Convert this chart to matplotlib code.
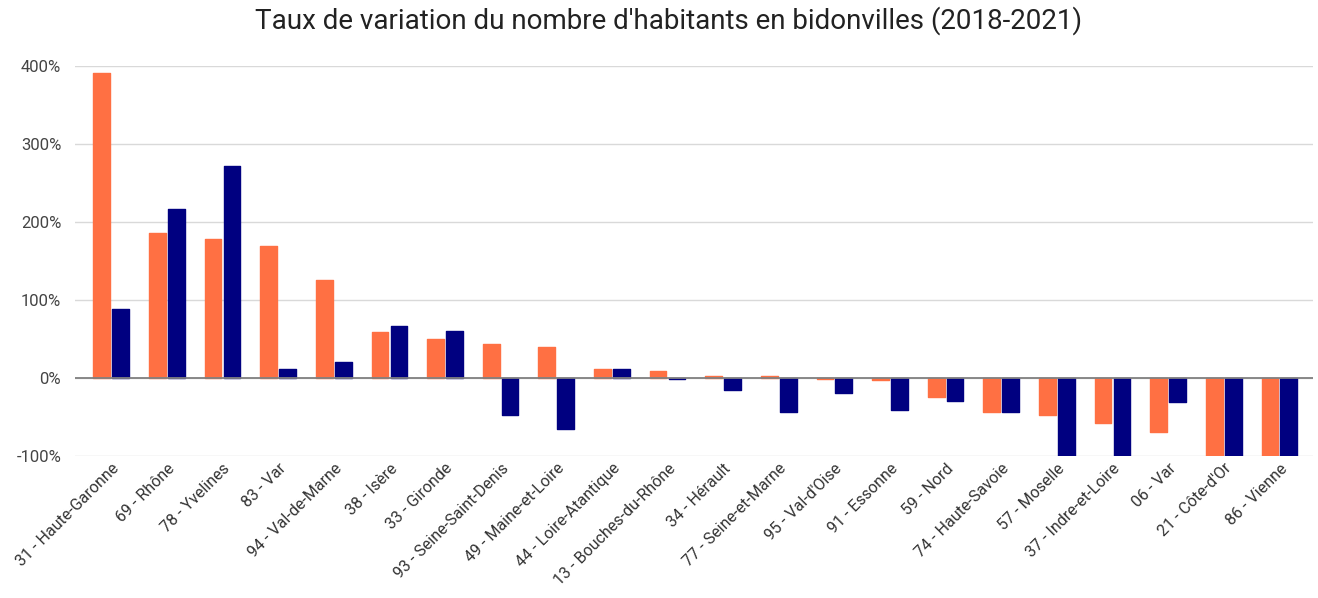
import numpy as np
import matplotlib.pyplot as plt
from matplotlib.ticker import FuncFormatter

plt.rcParams['font.family'] = ['Roboto', 'DejaVu Sans']

departements = ["31 - Haute-Garonne", "69 - Rhône", "78 - Yvelines", "83 - Var",
                "94 - Val-de-Marne", "38 - Isère", "33 - Gironde",
                "93 - Seine-Saint-Denis", "49 - Maine-et-Loire", "44 - Loire-Atantique",
                "13 - Bouches-du-Rhône", "34 - Hérault", "77 - Seine-et-Marne",
                "95 - Val-d'Oise", "91 - Essonne", "59 - Nord", "74 - Haute-Savoie",
                "57 - Moselle", "37 - Indre-et-Loire", "06 - Var", "21 - Côte-d'Or",
                "86 - Vienne"]
serie_orange = [391, 186, 178, 169, 126, 59, 50, 43, 40, 12, 9, 3, 3, -1, -3,
                -24, -44, -47, -58, -69, -100, -100]
serie_bleue = [88, 217, 272, 11, 20, 67, 60, -47, -65, 12, -1, -15, -43, -19, -41,
               -29, -44, -100, -100, -31, -100, -100]

fig = plt.figure(figsize=(13.18, 5.98), dpi=100)
ax = fig.add_axes([0.057, 0.2375, 0.939, 0.652])

x = np.arange(len(departements))
w = 0.30
ax.bar(x - 0.17, serie_orange, width=w, color='#ff7043', edgecolor='#ff7043',
       linewidth=1, joinstyle='round', zorder=3)
ax.bar(x + 0.17, serie_bleue, width=w, color='#000080', edgecolor='#000080',
       linewidth=1, joinstyle='round', zorder=3)

ax.set_ylim(-100, 400)
ax.set_xlim(-0.65, 21.6)
ax.set_yticks([-100, 0, 100, 200, 300, 400])
ax.yaxis.set_major_formatter(FuncFormatter(lambda v, p: f"{v:.0f}%"))
ax.grid(axis='y', color='#d9d9d9', linewidth=1, zorder=0)
ax.axhline(0, color='#808080', linewidth=1.3, zorder=4)
for s in ax.spines.values():
    s.set_visible(False)
ax.tick_params(axis='both', length=0, colors='#444444', labelsize=12)
ax.tick_params(axis='y', pad=10)

ax.set_xticks(x)
ax.set_xticklabels(departements, rotation=45, ha='right', rotation_mode='anchor',
                   fontsize=11.5, color='#333333')

fig.suptitle("Taux de variation du nombre d'habitants en bidonvilles (2018-2021)",
             fontsize=20, color='#222222', y=0.99, x=0.507)

fig.savefig('out.png', dpi=100)
